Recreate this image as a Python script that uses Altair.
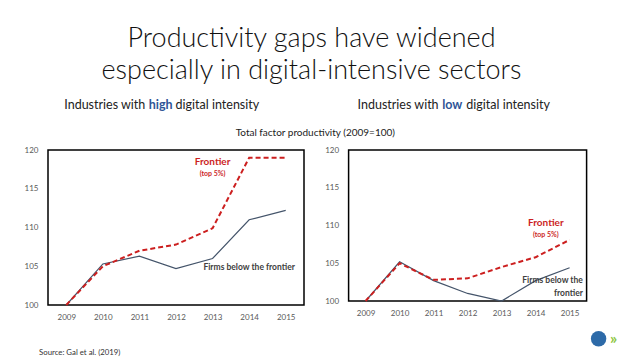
import altair as alt
import pandas as pd

years = [2009, 2010, 2011, 2012, 2013, 2014, 2015]
high_frontier = [100, 105.0, 107.0, 107.8, 109.9, 119.0, 119.0]
high_firms = [100, 105.3, 106.3, 104.7, 106.0, 111.0, 112.2]
low_frontier = [100, 105.0, 102.8, 103.0, 104.5, 105.8, 108.1]
low_firms = [100, 105.2, 102.7, 101.0, 100.0, 102.7, 104.4]
y_ticks = [100, 105, 110, 115, 120]

FONT = "Lato"
RED = "#cc1f1f"
SLATE = "#44546a"
BLUE = "#2f5597"


def label(text, x, y, size, color="#222222", weight="normal", align="center", baseline="middle"):
    return alt.Chart(alt.Data(values=[{}])).mark_text(
        text=text, fontSize=size, color=color, fontWeight=weight, align=align,
        baseline=baseline, font=FONT
    ).encode(x=alt.value(x), y=alt.value(y))


def panel(frontier, firms, w, h, notes, extra):
    df = pd.DataFrame({"year": years, "frontier": frontier, "firms": firms})
    xscale = alt.Scale(domain=[2008.5, 2015.5], nice=False, zero=False)
    yscale = alt.Scale(domain=[100, 120], nice=False, zero=False)
    xaxis = alt.Axis(values=years, format="d", title=None, grid=False, ticks=False,
                     domain=False, labelPadding=8, labelFontSize=8, labelColor="#595959",
                     labelFont=FONT, labelOverlap=False)
    yaxis = alt.Axis(values=y_ticks, title=None, grid=False, ticks=False, domain=False,
                     labelPadding=10, labelFontSize=8, labelColor="#595959", labelFont=FONT,
                     labelOverlap=False)
    base = alt.Chart(df)
    firms_line = base.mark_line(color=SLATE, strokeWidth=1.2).encode(
        x=alt.X("year:Q", scale=xscale, axis=xaxis),
        y=alt.Y("firms:Q", scale=yscale, axis=yaxis))
    front_line = base.mark_line(color=RED, strokeWidth=2, strokeDash=[5, 3]).encode(
        x=alt.X("year:Q", scale=xscale, axis=xaxis),
        y=alt.Y("frontier:Q", scale=yscale, axis=yaxis))
    layers = [firms_line, front_line]
    for (t, nx, ny, size, color, align) in notes:
        ndf = pd.DataFrame({"year": [nx], "v": [ny], "t": [t]})
        layers.append(alt.Chart(ndf).mark_text(fontSize=size, color=color, fontWeight="bold",
                                               align=align, font=FONT).encode(
            x=alt.X("year:Q", scale=xscale, axis=xaxis),
            y=alt.Y("v:Q", scale=yscale, axis=yaxis), text="t:N"))
    layers += extra
    return alt.layer(*layers).properties(width=w, height=h)


left_notes = [
    ("Frontier", 2013.0, 118.5, 10, RED, "center"),
    ("(top 5%)", 2013.0, 116.9, 7, RED, "center"),
    ("Firms below the frontier", 2014.0, 104.9, 8.5, "#404040", "center"),
]
right_notes = [
    ("Frontier", 2014.3, 110.3, 10, RED, "center"),
    ("(top 5%)", 2014.3, 108.8, 7, RED, "center"),
    ("Firms below the", 2015.39, 102.73, 8.5, "#404040", "right"),
    ("frontier", 2015.39, 101.0, 8.5, "#404040", "right"),
]

left_extra = [
    label("Productivity gaps have widened", 263.5, -103.3, 27, "#111111", 300, baseline="alphabetic"),
    label("especially in digital-intensive sectors", 263.5, -71.3, 27, "#111111", 300, baseline="alphabetic"),
    label("Industries with", 97.3, -45.5, 12.5, "#222222", align="right"),
    label("high", 112.6, -45.5, 12.5, BLUE, "bold"),
    label("digital intensity", 127.6, -45.5, 12.5, "#222222", align="left"),
    label("Total factor productivity (2009=100)", 267.3, -17.3, 10, "#222222"),
    label("Source: Gal et al. (2019)", -9, 202.7, 7.8, "#333333", align="left"),
]
logo = alt.Chart(alt.Data(values=[{}])).mark_point(
    shape="circle", filled=True, color="#2d6aa8", opacity=1, size=238
).encode(x=alt.value(250), y=alt.value(188.7))
right_extra = [
    label("Industries with", 90.0, -45.5, 12.5, "#222222", align="right"),
    label("low", 103.7, -45.5, 12.5, BLUE, "bold"),
    label("digital intensity", 117.7, -45.5, 12.5, "#222222", align="left"),
    logo,
    label("»", 265, 188.7, 16, "#8dc63f", "bold"),
]

left = panel(high_frontier, high_firms, 256, 155, left_notes, left_extra)
right = panel(low_frontier, low_firms, 238, 151, right_notes, right_extra)

chart = alt.hconcat(left, right, spacing=44.6, bounds="flush").properties(
    padding={"left": 15, "top": 15, "right": 0, "bottom": 0}
).configure_view(stroke="black", strokeWidth=1.5)

chart.save("out.html", embed_options={"renderer": "svg", "actions": False})
